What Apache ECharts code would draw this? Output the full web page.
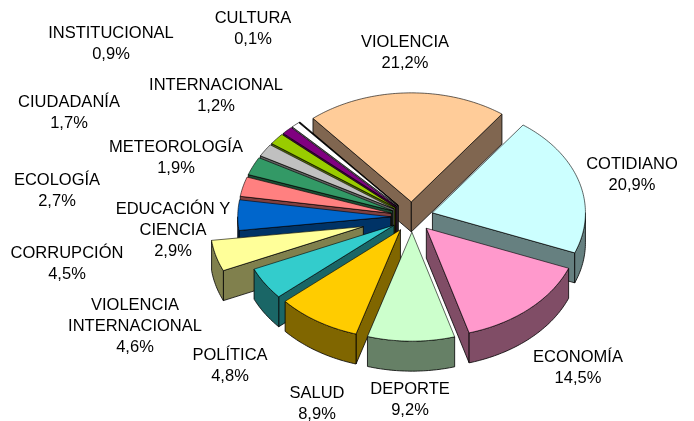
<!DOCTYPE html>
<html lang="es">
<head>
    <meta charset="UTF-8">
    <title>Temas</title>
    <style>
        html, body { margin: 0; padding: 0; background: #fff; }
        #chart { width: 694px; height: 421px; }
    </style>
</head>
<body>
    <div id="chart"></div>
    <script src="https://cdn.jsdelivr.net/npm/echarts@6/dist/echarts.min.js"></script>
    <script type="text/javascript">
        // slices in drawing order, clockwise from the start angle
        const categories = ['VIOLENCIA', 'COTIDIANO', 'ECONOMÍA', 'DEPORTE', 'SALUD', 'POLÍTICA',
            'VIOLENCIA\nINTERNACIONAL', 'CORRUPCIÓN', 'EDUCACIÓN Y\nCIENCIA', 'ECOLOGÍA',
            'METEOROLOGÍA', 'CIUDADANÍA', 'INTERNACIONAL', 'INSTITUCIONAL', 'CULTURA'];
        const values = [21.2, 20.9, 14.5, 9.2, 8.9, 4.8, 4.6, 4.5, 2.9, 2.7, 1.9, 1.7, 1.2, 0.9, 0.1];
        const valueLabels = ['21,2%', '20,9%', '14,5%', '9,2%', '8,9%', '4,8%', '4,6%', '4,5%',
            '2,9%', '2,7%', '1,9%', '1,7%', '1,2%', '0,9%', '0,1%'];
        const colors = ['#FFCC99', '#CCFFFF', '#FF99CC', '#CCFFCC', '#FFCC00', '#33CCCC', '#FFFF99',
            '#0066CC', '#FF8080', '#339966', '#C0C0C0', '#99CC00', '#800080', '#FFFFFF', '#000000'];
        const sideColors = ['#806650', '#668080', '#804D66', '#668066', '#806600', '#1A6666', '#80804D',
            '#003366', '#804040', '#1A4D33', '#606060', '#4D6600', '#400040', '#808080', '#000000'];
        const explode = [0.139, 0.139, 0.139, 0.139, 0.139, 0.139, 0.33, 0.139, 0.139, 0.139, 0.139, 0.139, 0.139, 0.139, 0.139];

        // label centre x, y of the block centre
        const labelPos = [[405, 53], [632, 175], [578, 368], [410, 400], [317, 404], [230, 366],
            [135, 326], [67, 264], [173, 230], [57, 191], [176, 158], [69, 113], [216, 96], [111, 44], [253, 29]];

        const cx = 412, cy = 217, rx = 153, ry = 109, depth = 30;
        const startAngle = -40;
        const total = values.reduce((a, b) => a + b, 0);

        const slices = [];
        let acc = startAngle;
        values.forEach((v, i) => {
            const span = v / total * 360;
            slices.push({i: i, start: acc, end: acc + span, mid: acc + span / 2});
            acc += span;
        });

        function rad(a) {
            return a * Math.PI / 180;
        }

        // compass angle, clockwise from the top of the ellipse
        function rim(apex, a) {
            return [apex[0] + rx * Math.sin(rad(a)), apex[1] - ry * Math.cos(rad(a))];
        }

        function down(p) {
            return [p[0], p[1] + depth];
        }

        function arcPoints(apex, from, to) {
            const pts = [];
            for (let a = from; a < to; a += 1) {
                pts.push(rim(apex, a));
            }
            pts.push(rim(apex, to));
            return pts;
        }

        function poly(points, fill, lw) {
            return {
                type: 'polygon',
                shape: {points: points},
                style: {fill: fill, stroke: '#000', lineWidth: lw, lineJoin: 'round'}
            };
        }

        function renderSlice(params, api) {
            const s = slices[api.value(0)];
            const e = explode[s.i];
            const apex = [cx + e * rx * Math.sin(rad(s.mid)), cy - e * ry * Math.cos(rad(s.mid))];
            const p1 = rim(apex, s.start);
            const p2 = rim(apex, s.end);
            const side = sideColors[s.i];
            const children = [];

            // only the walls that face the viewer
            if (p1[0] < apex[0]) {
                children.push(poly([apex, p1, down(p1), down(apex)], side, 0.8));
            }
            if (p2[0] > apex[0]) {
                children.push(poly([apex, p2, down(p2), down(apex)], side, 0.8));
            }
            // the rim is only seen between 90 and 270
            const from = Math.max(s.start, 90);
            const to = Math.min(s.end, 270);
            if (from < to) {
                const arc = arcPoints(apex, from, to);
                children.push(poly(arc.concat(arc.map(p => down(p)).reverse()), side, 0.8));
            }
            children.push(poly([apex].concat(arcPoints(apex, s.start, s.end)), colors[s.i], 0.6));
            return {type: 'group', children: children};
        }

        function renderLabel(params, api) {
            const i = api.value(0);
            return {
                type: 'text',
                style: {
                    text: categories[i] + '\n' + valueLabels[i],
                    x: labelPos[i][0],
                    y: labelPos[i][1],
                    align: 'center',
                    verticalAlign: 'middle',
                    fill: '#000',
                    font: '16.5px "Liberation Sans", Arial, sans-serif',
                    lineHeight: 21
                }
            };
        }

        // back slices first, front slices last
        const drawOrder = slices.slice()
            .sort((a, b) => Math.cos(rad(b.mid)) - Math.cos(rad(a.mid)))
            .map(s => [s.i]);

        const chart = echarts.init(document.getElementById('chart'));
        chart.setOption({
            animation: false,
            series: [
                {type: 'custom', coordinateSystem: 'none', silent: true, renderItem: renderSlice, data: drawOrder},
                {type: 'custom', coordinateSystem: 'none', silent: true, renderItem: renderLabel, data: values.map((v, i) => [i])}
            ]
        });
    </script>
</body>
</html>
